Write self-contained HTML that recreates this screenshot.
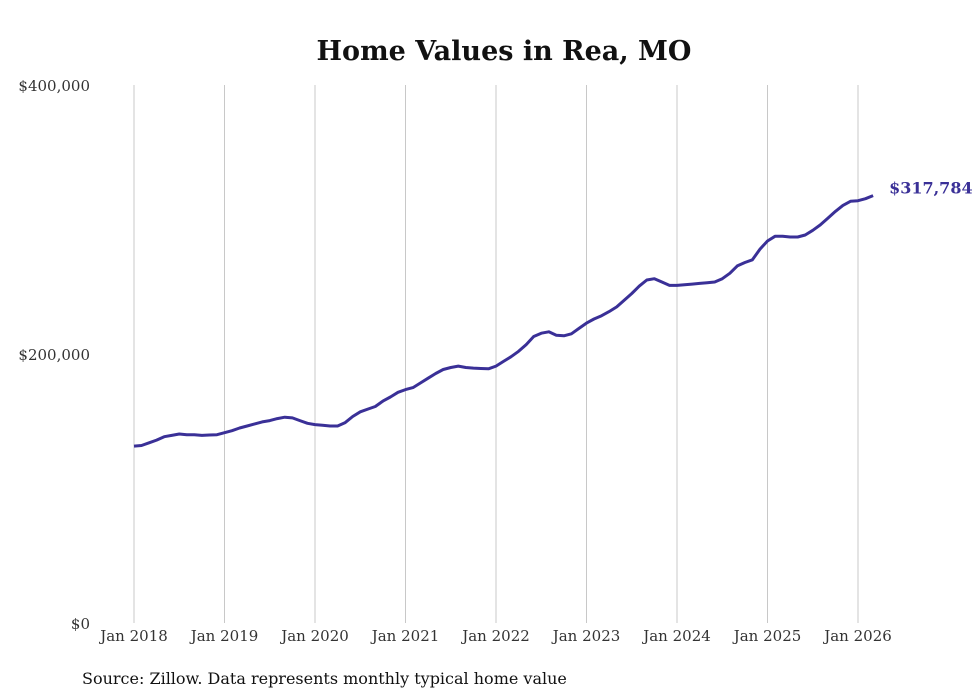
<!DOCTYPE html>
<html><head><meta charset="utf-8"><style>
html,body{margin:0;padding:0;background:#fff;}
svg{display:block;font-family:"DejaVu Serif","Liberation Serif",serif;}
</style></head><body>
<svg id="chart" width="980" height="699" viewBox="0 0 980 699">
<text x="504" y="60" text-anchor="middle" font-size="27" font-weight="bold" fill="#111">Home Values in Rea, MO</text>
<g id="grid"></g>
<g id="yaxis"></g>
<g id="xaxis"></g>
<g id="series"></g>
<text x="82" y="684" font-size="16" fill="#111">Source: Zillow. Data represents monthly typical home value</text>
</svg>
<script>
const xTickLabels=["Jan 2018","Jan 2019","Jan 2020","Jan 2021","Jan 2022","Jan 2023","Jan 2024","Jan 2025","Jan 2026"];
const yTicks=[0,200000,400000];
const yTickLabels=["$0","$200,000","$400,000"];
const values=[
131.5,132,134,136,138.5,139.5,140.5,140,140,139.5,139.8,140,
141.5,143,145,146.5,148,149.5,150.5,152,153,152.5,150.5,148.5,
147.5,147,146.5,146.5,149,153.5,157,159,161,165,168,171.5,
173.5,175,178.5,182,185.5,188.5,190,191,190,189.5,189.2,189,
191,194.5,198,202,207,213,215.5,216.5,214,213.5,215,219,
223,226,228.5,231.5,235,240,245,250.5,255,256,253.5,251,
251,251.5,252,252.5,253,253.5,256,260,265.5,268,270,278,
284,287.5,287.5,287,287,288.5,292,296,301,306,310.5,313.5,
314,315.5,317.784
];
const lastLabel="$317,784";
const NS="http://www.w3.org/2000/svg";
const x0=134,yearW=90.5,yTop=85,yBot=623,yMax=400000;
const xs=i=>x0+i*yearW/12;
const ys=v=>yBot-(v/yMax)*(yBot-yTop);
function mk(t,a,p){const e=document.createElementNS(NS,t);for(const k in a)e.setAttribute(k,a[k]);p.appendChild(e);return e;}
const grid=document.getElementById('grid'),xa=document.getElementById('xaxis'),ya=document.getElementById('yaxis'),se=document.getElementById('series');
xTickLabels.forEach((l,i)=>{
 const x=xs(i*12);
 const g=mk('line',{x1:x,x2:x,y1:yTop,y2:yBot,stroke:'#c8c8c8','stroke-width':1},grid);
 
 
 const t=mk('text',{x:x,y:641,'text-anchor':'middle','font-size':15,fill:'#333'},xa);
 t.textContent=l;
 
 
});
yTicks.forEach((v,i)=>{
 const t=mk('text',{x:90,y:ys(v)+6,'text-anchor':'end','font-size':15,fill:'#333'},ya);
 t.textContent=yTickLabels[i];
 
 
});
const d=values.map((v,i)=>(i?'L':'M')+xs(i).toFixed(1)+','+ys(v*1000).toFixed(1)).join('');
const p=mk('path',{d:d,fill:'none',stroke:'#3a3097','stroke-width':3,'stroke-linejoin':'round'},se);


const li=values.length-1;
const lt=mk('text',{x:xs(li)+16,y:ys(values[li]*1000)-2,'font-size':16,'font-weight':'bold',fill:'#3a3097'},se);
lt.textContent=lastLabel;


</script>
</body></html>
